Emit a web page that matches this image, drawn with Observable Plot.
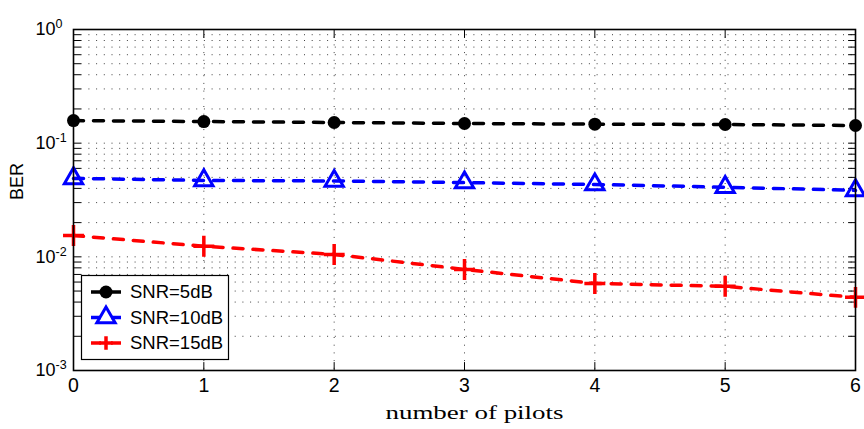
<!DOCTYPE html>
<html><head><meta charset="utf-8">
<script src="https://cdn.jsdelivr.net/npm/d3@7"></script>
<script src="https://cdn.jsdelivr.net/npm/@observablehq/plot@0.6"></script>
<style>body{margin:0;background:#fff}#chart{width:864px;height:429px}</style>
</head><body><div id="chart"></div>
<script>
// ---- data ----
const pilots = [0, 1, 2, 3, 4, 5, 6];
const ber5dB = [0.158, 0.155, 0.152, 0.149, 0.147, 0.146, 0.143];
const ber10dB = [0.049, 0.047, 0.0465, 0.045, 0.0433, 0.041, 0.0384];
const ber15dB = [0.0154, 0.0124, 0.0105, 0.00775, 0.00583, 0.0055, 0.0044];
const seriesNames = ["SNR=5dB", "SNR=10dB", "SNR=15dB"];
const seriesColors = ["#000000", "#0000ff", "#ff0000"];
const seriesSymbols = ["circle", "triangle", "plus"];
const xTicks = [0, 1, 2, 3, 4, 5, 6];
const yMajor = [1e-3, 1e-2, 1e-1, 1e0];
const yExponents = ["-3", "-2", "-1", "0"];
const minorMultipliers = [2, 3, 4, 5, 6, 7, 8, 9];

const yMinor = [];
for (const m of yMajor.slice(0, 3)) for (const k of minorMultipliers) yMinor.push(m * k);
const yAllTicks = [...yMajor, ...yMinor];
const yGrid = [1e-2, 1e-1, ...yMinor];

const seriesValues = [ber5dB, ber10dB, ber15dB];
const rows = seriesValues.flatMap((vals, s) => vals.map((v, i) => ({x: pilots[i], y: v, s})));

const tickShape = {draw(ctx, l) { ctx.moveTo(0, 0); ctx.lineTo(0, -l); }};

const lineMarks = seriesValues.map((vals, s) =>
  Plot.line(rows.filter(d => d.s === s), {x: "x", y: "y", stroke: seriesColors[s], strokeWidth: 3.5, strokeDasharray: "10,10"}));
const dotMarks = seriesValues.map((vals, s) => {
  const data = rows.filter(d => d.s === s);
  if (s === 0) return Plot.dot(data, {x: "x", y: "y", symbol: seriesSymbols[s], r: 6.5, fill: seriesColors[s]});
  if (s === 1) return Plot.dot(data, {x: "x", y: "y", symbol: seriesSymbols[s], r: 6.8, fill: "none", stroke: seriesColors[s], strokeWidth: 3});
  return Plot.dot(data, {x: "x", y: "y", symbol: seriesSymbols[s], r: 6.8, stroke: seriesColors[s], strokeWidth: 3.5});
});

const plot = Plot.plot({
  width: 864, height: 429,
  marginLeft: 73, marginRight: 9, marginTop: 29, marginBottom: 59,
  x: {domain: [0, 6], axis: null},
  y: {type: "log", domain: [1e-3, 1], axis: null},
  style: {fontFamily: "'Liberation Sans', Arial, sans-serif", background: "#fff", color: "#000"},
  marks: [
    Plot.gridY(yGrid, {stroke: "#000", strokeOpacity: 0.75, strokeDasharray: "1,6.7"}),
    Plot.gridX(xTicks.slice(1, -1), {stroke: "#000", strokeOpacity: 0.75, strokeDasharray: "1,6.7"}),
    Plot.vector(yAllTicks, {y: d => d, frameAnchor: "left", rotate: 90, length: 7, anchor: "start", shape: tickShape, stroke: "#000", strokeWidth: 1}),
    Plot.vector(yAllTicks, {y: d => d, frameAnchor: "right", rotate: -90, length: 7, anchor: "start", shape: tickShape, stroke: "#000", strokeWidth: 1}),
    Plot.vector(xTicks, {x: d => d, frameAnchor: "bottom", rotate: 0, length: 8, anchor: "start", shape: tickShape, stroke: "#000", strokeWidth: 1}),
    Plot.vector(xTicks, {x: d => d, frameAnchor: "top", rotate: 180, length: 8, anchor: "start", shape: tickShape, stroke: "#000", strokeWidth: 1}),
    ...lineMarks,
    ...dotMarks,
    Plot.frame({stroke: "#000", strokeWidth: 1.6}),
    Plot.text(yMajor, {y: d => d, frameAnchor: "left", dx: -38, textAnchor: "start", fontSize: 18,
      text: (d, i) => "10^" + yExponents[i]}),
    Plot.text(xTicks, {x: d => d, frameAnchor: "bottom", dy: 21, fontSize: 19.5, text: d => String(d)}),
    Plot.text(["number of pilots"], {frameAnchor: "bottom", dy: 48, dx: 10, fontSize: 19,
      fontFamily: "'Liberation Serif', 'Times New Roman', serif", text: d => d}),
    Plot.text(["BER"], {frameAnchor: "left", dx: -56, rotate: -90, fontSize: 18, text: d => d})
  ]
});

document.getElementById("chart").appendChild(plot);
const svg = d3.select(plot);

// superscript exponents on y tick labels
svg.selectAll("text").each(function() {
  const t = this.textContent;
  const m = /^10\^(.+)$/.exec(t);
  if (!m) return;
  const sel = d3.select(this);
  sel.text("");
  sel.append("tspan").text("10");
  sel.append("tspan").attr("dy", "-0.55em").attr("font-size", "12.5").text(m[1]);
});
svg.selectAll("text").filter(function() { return this.textContent === "number of pilots"; })
  .attr("textLength", 178).attr("lengthAdjust", "spacingAndGlyphs");

// legend
const lg = svg.append("g").attr("font-family", "'Liberation Sans', Arial, sans-serif")
  .attr("font-size", 18.5).attr("text-anchor", "start");
lg.append("rect").attr("x", 81.5).attr("y", 275.5).attr("width", 147).attr("height", 84)
  .attr("fill", "#fff").attr("stroke", "#000").attr("stroke-width", 1.2);
const rowY = [292, 317.5, 343];
seriesNames.forEach((name, i) => {
  const y = rowY[i];
  lg.append("line").attr("x1", 91).attr("x2", 121).attr("y1", y).attr("y2", y)
    .attr("stroke", seriesColors[i]).attr("stroke-width", 3.5).attr("stroke-dasharray", "10,10");
  const r = i === 0 ? 6.5 : 6.8;
  const p = lg.append("path").attr("transform", `translate(106,${y})`);
  if (seriesSymbols[i] === "plus") {
    p.attr("d", `M-${r},0H${r}M0,-${r}V${r}`).attr("stroke", seriesColors[i]).attr("stroke-width", 3.5).attr("fill", "none");
  } else {
    const symType = seriesSymbols[i] === "circle" ? d3.symbolCircle : d3.symbolTriangle;
    p.attr("d", d3.symbol(symType, Math.PI * r * r)());
    if (i === 0) p.attr("fill", seriesColors[i]);
    else p.attr("fill", "none").attr("stroke", seriesColors[i]).attr("stroke-width", 3);
  }
  lg.append("text").attr("x", 130).attr("y", y).attr("dy", "0.35em").attr("text-anchor", "start").text(name);
});
</script>
</body></html>
